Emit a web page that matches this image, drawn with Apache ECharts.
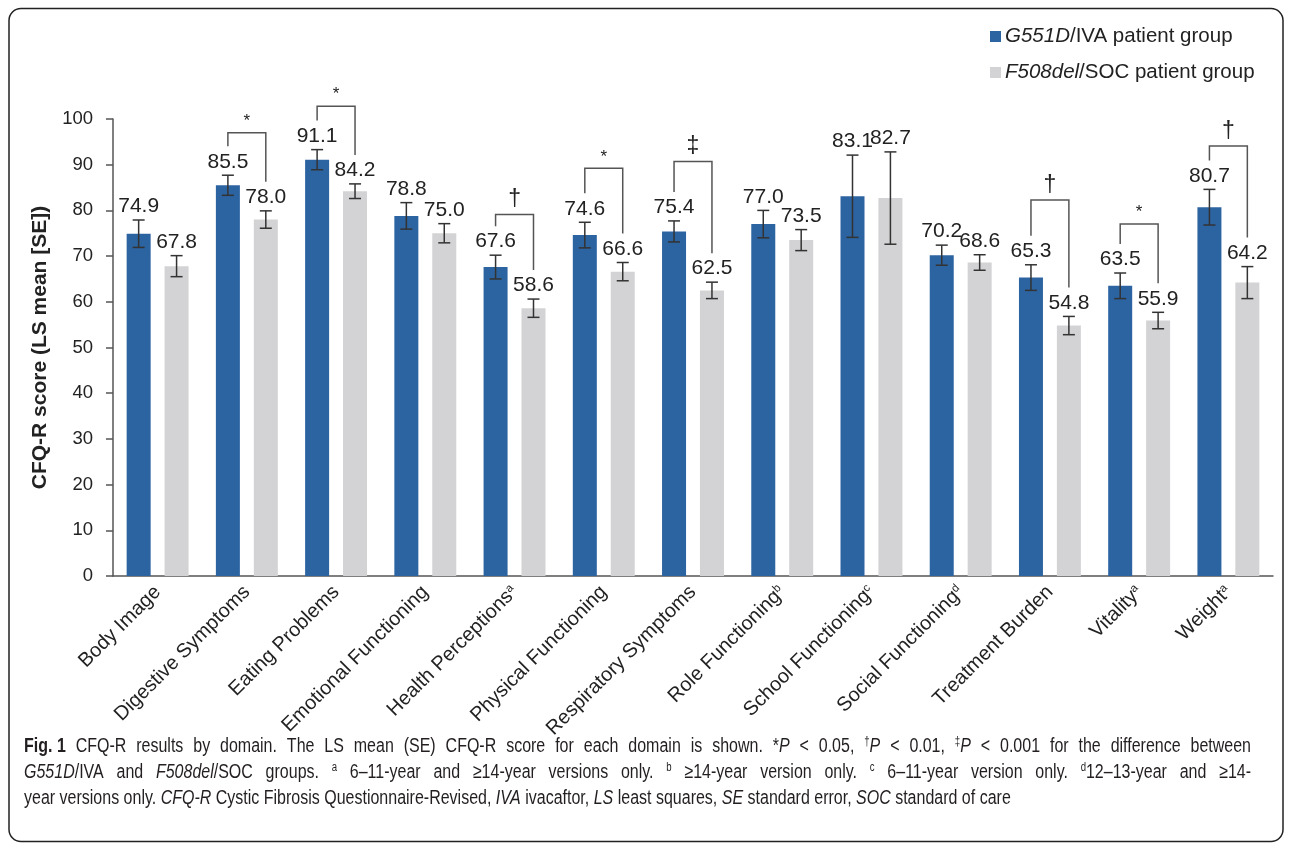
<!DOCTYPE html>
<html>
<head>
<meta charset="utf-8">
<title>CFQ-R results by domain</title>
<script src="https://cdn.jsdelivr.net/npm/echarts@6/dist/echarts.min.js"></script>
<style>
  html, body { margin: 0; padding: 0; background: #fff; }
  #main { width: 1292px; height: 850px; }
</style>
</head>
<body>
<div id="main"></div>
<script>
var categories = ['Body Image', 'Digestive Symptoms', 'Eating Problems', 'Emotional Functioning',
  'Health Perceptions', 'Physical Functioning', 'Respiratory Symptoms', 'Role Functioning',
  'School Functioning', 'Social Functioning', 'Treatment Burden', 'Vitality', 'Weight'];
var catNotes = ['', '', '', '', 'a', '', '', 'b', 'c', 'd', '', 'a', 'a'];

var ivaMean = [74.9, 85.5, 91.1, 78.8, 67.6, 74.6, 75.4, 77.0, 83.1, 70.2, 65.3, 63.5, 80.7];
var ivaSE   = [3.0, 2.2, 2.2, 2.9, 2.6, 2.8, 2.3, 3.0, 9.0, 2.2, 2.8, 2.8, 3.9];
var socMean = [67.8, 78.0, 84.2, 75.0, 58.6, 66.6, 62.5, 73.5, 82.7, 68.6, 54.8, 55.9, 64.2];
var socSE   = [2.3, 1.9, 1.6, 2.1, 2.0, 2.0, 1.8, 2.3, 10.1, 1.7, 2.0, 1.8, 3.5];

// significance marks and the score level the bracket is drawn at
var sigMarks = ['', '*', '*', '', '\u2020', '*', '\u2021', '', '', '', '\u2020', '*', '\u2020'];
var sigLevel = [null, 97.0, 102.8, null, 79.1, 89.2, 90.7, null, null, null, 82.3, 77.0, 94.1];

var yTicks = [0, 10, 20, 30, 40, 50, 60, 70, 80, 90, 100];

var seriesNames = ['G551D/IVA patient group', 'F508del/SOC patient group'];

var captionLines = [
  '{b|Fig. 1} CFQ-R results by domain. The LS mean (SE) CFQ-R score for each domain is shown. *{i|P} < 0.05, {sup|\u2020}{i|P} < 0.01, {sup|\u2021}{i|P} < 0.001 for the difference between',
  '{i|G551D}/IVA and {i|F508del}/SOC groups. {sup|a} 6\u201311-year and \u226514-year versions only. {sup|b} \u226514-year version only. {sup|c} 6\u201311-year version only. {sup|d}12\u201313-year and \u226514-',
  'year versions only. {i|CFQ-R} Cystic Fibrosis Questionnaire-Revised, {i|IVA} ivacaftor, {i|LS} least squares, {i|SE} standard error, {i|SOC} standard of care'
];
var captionJustify = [true, true, false];

var BLUE = '#2c63a1';
var GREY = '#d3d3d5';
var FONT = '"Liberation Sans", Arial, sans-serif';
var barW = 24;
var gapRatio = 0.58;
var barOffset = barW * (1 + gapRatio) / 2;

var chart = echarts.init(document.getElementById('main'), null, { renderer: 'canvas' });

function errorBarItem(sign) {
  return function(params, api) {
    var i = api.value(0), m = api.value(1), se = api.value(2);
    var x = api.coord([i, m])[0] + sign * barOffset;
    var yTop = api.coord([i, m + se])[1];
    var yBot = api.coord([i, m - se])[1];
    var cap = 6;
    var ls = { stroke: '#333', lineWidth: 1.5 };
    return {
      type: 'group',
      children: [
        { type: 'line', shape: { x1: x, y1: yTop, x2: x, y2: yBot }, style: ls },
        { type: 'line', shape: { x1: x - cap, y1: yTop, x2: x + cap, y2: yTop }, style: ls },
        { type: 'line', shape: { x1: x - cap, y1: yBot, x2: x + cap, y2: yBot }, style: ls },
        {
          type: 'text',
          style: {
            x: x, y: yTop - 3, text: m.toFixed(1),
            align: 'center', verticalAlign: 'bottom',
            fontFamily: FONT, fontSize: 21, fill: '#222'
          }
        }
      ]
    };
  };
}

function bracketItem(params, api) {
  var i = api.value(0), level = api.value(1);
  var cx = api.coord([i, 0])[0];
  var lx = cx - barOffset, rx = cx + barOffset;
  var lb = api.coord([i, ivaMean[i] + ivaSE[i]])[1] - 29;
  var rb = api.coord([i, socMean[i] + socSE[i]])[1] - 29;
  var ty = api.coord([i, level])[1];
  var mark = sigMarks[i];
  return {
    type: 'group',
    children: [
      {
        type: 'polyline',
        shape: { points: [[lx, lb], [lx, ty], [rx, ty], [rx, rb]] },
        style: { stroke: '#555', lineWidth: 1.5, fill: null }
      },
      {
        type: 'text',
        style: {
          x: cx, y: ty - 3, text: mark,
          align: 'center', verticalAlign: 'bottom',
          fontFamily: FONT, fontSize: mark == '*' ? 17 : 23, fill: '#222'
        }
      }
    ]
  };
}

var ivaErr = [], socErr = [], brackets = [];
for (var k = 0; k < categories.length; k++) {
  ivaErr.push([k, ivaMean[k], ivaSE[k]]);
  socErr.push([k, socMean[k], socSE[k]]);
  if (sigLevel[k] != null) brackets.push([k, sigLevel[k]]);
}

// caption: condensed look via scaleX, first two lines justified by widening the spaces
var capSize = 20;
var capSup = 12;
var capScale = 0.8;
var capLeft = 24, capRight = 1251;
var measureCtx = document.createElement('canvas').getContext('2d');

function fontOf(tag) {
  var f = '';
  if (tag == 'i') f += 'italic ';
  if (tag == 'b') f += 'bold ';
  return f + (tag == 'sup' ? capSup : capSize) + 'px "Liberation Sans"';
}

function justifyLine(line) {
  var re = /\{(\w+)\|([^}]*)\}/g, m, last = 0, parts = [];
  while ((m = re.exec(line)) !== null) {
    if (m.index > last) parts.push({ tag: '', text: line.slice(last, m.index) });
    parts.push({ tag: m[1], text: m[2] });
    last = re.lastIndex;
  }
  if (last < line.length) parts.push({ tag: '', text: line.slice(last) });
  var width = 0, spaces = 0;
  parts.forEach(function(p) {
    measureCtx.font = fontOf(p.tag);
    width += measureCtx.measureText(p.text).width;
    if (p.tag == '') spaces += (p.text.match(/ /g) || []).length;
  });
  measureCtx.font = fontOf('');
  var spaceW = measureCtx.measureText(' ').width;
  var extra = ((capRight - capLeft) / capScale - width) / spaces;
  var out = parts.map(function(p) {
    if (p.tag) return '{' + p.tag + '|' + p.text + '}';
    return p.text.split(' ').join('{sp| }');
  }).join('');
  return { text: out, sp: spaceW + extra };
}

var graphics = [{
  type: 'rect',
  shape: { x: 9, y: 8.5, width: 1274, height: 833, r: 12 },
  style: { fill: null, stroke: '#222', lineWidth: 1.5 },
  silent: true
}];
captionLines.forEach(function(t, n) {
  var txt = t, spW = null;
  if (captionJustify[n]) {
    var j = justifyLine(t);
    txt = j.text;
    spW = j.sp;
  }
  var rich = {
    b: { fontFamily: FONT, fontSize: capSize, fontWeight: 'bold', fill: '#231f20' },
    i: { fontFamily: FONT, fontSize: capSize, fontStyle: 'italic', fill: '#231f20' },
    sup: { fontFamily: FONT, fontSize: capSup, verticalAlign: 'top', fill: '#231f20' }
  };
  if (spW) rich.sp = { fontFamily: FONT, fontSize: capSize, width: spW };
  graphics.push({
    type: 'text',
    x: capLeft,
    y: 746 + n * 26,
    scaleX: capScale,
    silent: true,
    style: {
      text: txt, rich: rich,
      verticalAlign: 'middle',
      fontFamily: FONT, fontSize: capSize, fill: '#231f20'
    }
  });
});

var option = {
  animation: false,
  textStyle: { fontFamily: FONT },
  legend: {
    orient: 'vertical',
    left: 985,
    top: 21,
    itemWidth: 11,
    itemHeight: 11,
    itemGap: 15,
    icon: 'rect',
    data: seriesNames,
    formatter: function(name) {
      var p = name.split('/');
      return '{it|' + p[0] + '}/' + p.slice(1).join('/');
    },
    textStyle: {
      fontFamily: FONT, fontSize: 20.5, color: '#222', padding: [0, 0, 0, -1],
      rich: { it: { fontFamily: FONT, fontSize: 20.5, fontStyle: 'italic', color: '#222' } }
    }
  },
  grid: { left: 113, right: 19, top: 119, bottom: 274 },
  xAxis: {
    type: 'category',
    data: categories,
    axisLine: { lineStyle: { color: '#555', width: 1.5 } },
    axisTick: { length: 8, lineStyle: { color: '#555', width: 1.5 } },
    axisLabel: {
      interval: 0,
      rotate: 45,
      margin: 13,
      fontFamily: FONT,
      fontSize: 20,
      color: '#222',
      formatter: function(val, idx) {
        return catNotes[idx] ? val + '{sup|' + catNotes[idx] + '}' : val;
      },
      rich: { sup: { fontFamily: FONT, fontSize: 11.5, verticalAlign: 'top', color: '#222' } }
    }
  },
  yAxis: {
    type: 'value',
    min: yTicks[0],
    max: yTicks[yTicks.length - 1],
    interval: 10,
    name: 'CFQ-R score (LS mean [SE])',
    nameLocation: 'middle',
    nameGap: 62,
    nameTextStyle: { fontFamily: FONT, fontSize: 21, fontWeight: 'bold', color: '#222' },
    axisLine: { show: true, lineStyle: { color: '#555', width: 1.5 } },
    axisTick: { show: true, length: 7, lineStyle: { color: '#555', width: 1.5 } },
    axisLabel: { margin: 20, fontFamily: FONT, fontSize: 18.5, color: '#222' },
    splitLine: { show: false }
  },
  series: [
    {
      name: seriesNames[0], type: 'bar', data: ivaMean,
      barWidth: barW, barGap: (gapRatio * 100) + '%',
      itemStyle: { color: BLUE }
    },
    {
      name: seriesNames[1], type: 'bar', data: socMean,
      barWidth: barW, barGap: (gapRatio * 100) + '%',
      itemStyle: { color: GREY }
    },
    { type: 'custom', name: 'ivaErr', data: ivaErr, renderItem: errorBarItem(-1), z: 5, silent: true },
    { type: 'custom', name: 'socErr', data: socErr, renderItem: errorBarItem(1), z: 5, silent: true },
    { type: 'custom', name: 'sig', data: brackets, renderItem: bracketItem, z: 5, silent: true }
  ],
  graphic: graphics
};

chart.setOption(option);
</script>
</body>
</html>
